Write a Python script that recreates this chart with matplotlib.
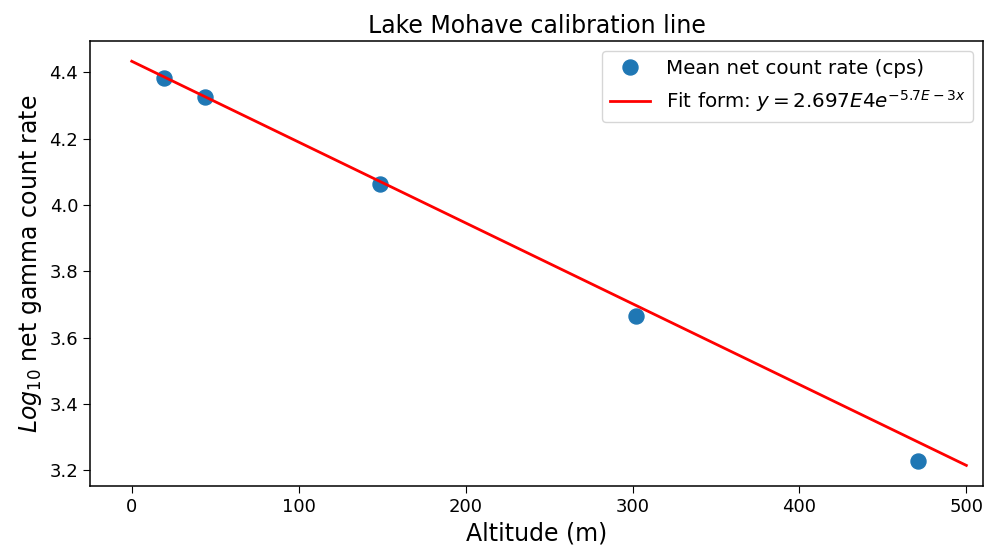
import numpy as np
import matplotlib
matplotlib.use("Agg")
import matplotlib.pyplot as plt

altitude = np.array([19.2, 43.6, 148.5, 301.8, 471.3])
log_rate = np.array([4.384, 4.324, 4.062, 3.665, 3.227])
#mean net count rate points

fit_x = np.array([0.0, 500.0])
fit_y = np.array([4.433, 3.215])
#fit line ends

fig = plt.figure(figsize=(9.86, 5.52), dpi=100)
ax = fig.add_axes([0.0913, 0.1196, 0.9057, 0.8061])

ax.plot(altitude, log_rate, "o", color="#1f77b4", markersize=10.8,
        label="Mean net count rate (cps)")
ax.plot(fit_x, fit_y, "-", color="red", linewidth=2.0,
        label=r"Fit form: $y = 2.697E4e^{-5.7E-3x}$")

ax.set_xlim(-25, 510)
ax.set_ylim(3.153, 4.494)
ax.set_xticks([0, 100, 200, 300, 400, 500])
ax.set_yticks([3.2, 3.4, 3.6, 3.8, 4.0, 4.2, 4.4])
ax.tick_params(labelsize=13, length=5)
for s in ax.spines.values():
    s.set_linewidth(1.1)
ax.set_xlabel("Altitude (m)", fontsize=17)
ax.set_ylabel(r"$Log_{10}$ net gamma count rate", fontsize=17)
ax.set_title("Lake Mohave calibration line", fontsize=17)
ax.legend(loc="upper right", fontsize=14.3)

fig.savefig("out.png", dpi=100)
